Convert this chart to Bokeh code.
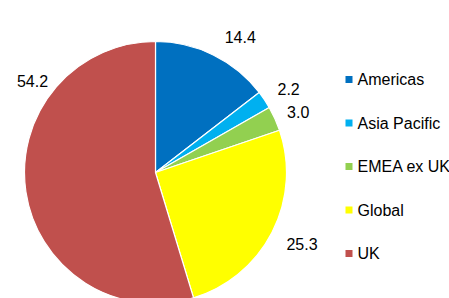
import math
from bokeh.plotting import figure
from bokeh.models import Range1d, ColumnDataSource
from bokeh.core.properties import value
from bokeh.embed import file_html
from bokeh.resources import INLINE

# ---- data ----
categories = ["Americas", "Asia Pacific", "EMEA ex UK", "Global", "UK"]
values = [14.4, 2.2, 3.0, 25.3, 54.2]
labels = ["14.4", "2.2", "3.0", "25.3", "54.2"]
colors = ["#0070C0", "#00B0F0", "#92D050", "#FFFF00", "#C0504D"]

# ---- layout ----
W, H = 449, 298
cx, cy, R = 155, 126, 131
label_angle_deg = [32, 58, 67, 116, 306.5]   # clockwise from top
label_dist = [160, 157, 155, 163, 153]
leg_x, leg_y0, leg_step = 348.5, 219, 43.5
FONT = "Liberation Sans"

p = figure(width=W, height=H, output_backend="svg", toolbar_location=None,
           x_range=Range1d(0, W), y_range=Range1d(0, H), min_border=0)
p.axis.visible = False
p.grid.visible = False
p.outline_line_color = None
p.background_fill_color = "white"
p.border_fill_color = "white"

total = sum(values)
starts, ends = [], []
cum = 0.0
for v in values:
    starts.append(math.pi / 2 - 2 * math.pi * cum / total)
    cum += v
    ends.append(math.pi / 2 - 2 * math.pi * cum / total)

src = ColumnDataSource(dict(start=starts, end=ends, color=colors))
p.wedge(x=cx, y=cy, radius=R, start_angle="start", end_angle="end",
        direction="clock", fill_color="color", line_color="white",
        line_width=1.2, source=src)

lx = [cx + d * math.sin(math.radians(a)) for a, d in zip(label_angle_deg, label_dist)]
ly = [cy + d * math.cos(math.radians(a)) for a, d in zip(label_angle_deg, label_dist)]
p.text(x=lx, y=ly, text=labels, text_align="center", text_baseline="middle",
       text_font=value(FONT), text_font_size="16px", text_color="#000000")

ly2 = [leg_y0 - i * leg_step for i in range(len(categories))]
p.scatter(x=[leg_x] * len(categories), y=ly2, marker="square", size=7,
          fill_color=colors, line_color=None)
p.text(x=[leg_x + 8.5] * len(categories), y=ly2, text=categories,
       text_align="left", text_baseline="middle",
       text_font=value(FONT), text_font_size="16px", text_color="#000000")

open("out.html", "w").write(file_html(p, INLINE))
